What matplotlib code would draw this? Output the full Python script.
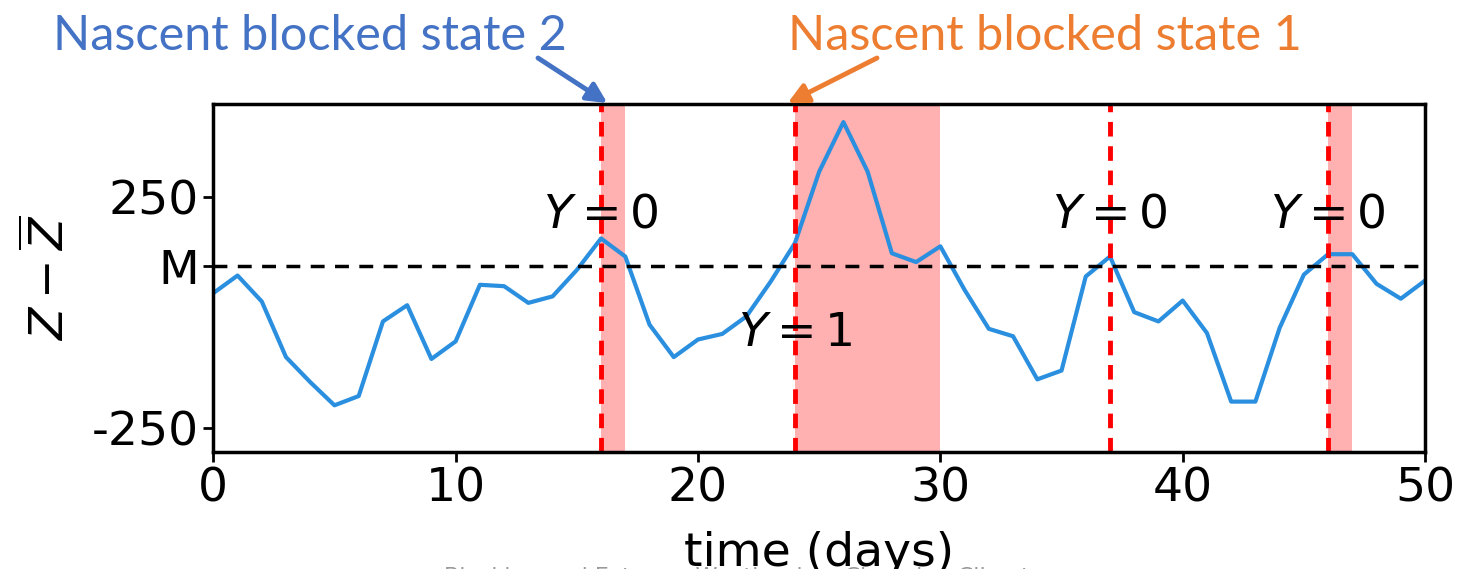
import matplotlib.pyplot as plt

days = list(range(51))
z_anom = [42, 80, 24, -96, -150, -200, -180, -19, 16, -100,
          -62, 60, 57, 21, 35, 92, 160, 121, -26, -96,
          -58, -46, -8, 67, 150, 304, 411, 304, 128, 109,
          143, 49, -35, -51, -144, -125, 78, 121, 1, -19,
          26, -44, -192, -192, -33, 82, 126, 126, 62, 30, 69]

M = 100
onsets = [16, 24, 37, 46]
blocked_spans = [(16, 17), (24, 30), (46, 47)]
y_labels = [(16, "$Y=0$", 210), (24, "$Y=1$", -45), (37, "$Y=0$", 210), (46, "$Y=0$", 210)]

fig = plt.figure(figsize=(14.58, 5.69), dpi=100)
ax = fig.add_axes([0.1463, 0.2062, 0.8311, 0.611])

for a, b in blocked_spans:
    ax.axvspan(a, b, color="#ffb0b0", lw=0)
ax.plot(days, z_anom, color="#2b8fe0", lw=3)
ax.axhline(M, color="black", ls="--", lw=2.5, dashes=(4, 3))
for d in onsets:
    ax.axvline(d, color="red", ls="--", lw=3.5, dashes=(3, 2))
for d, txt, yy in y_labels:
    ax.text(d, yy, txt, fontsize=34, ha="center", va="center")

ax.set_xlim(0, 50)
ax.set_ylim(-300, 450)
ax.set_xticks([0, 10, 20, 30, 40, 50])
ax.set_yticks([-250, M, 250])
ax.set_yticklabels(["-250", "M", "250"])
ax.tick_params(labelsize=34, width=2, length=7)
for s in ax.spines.values():
    s.set_linewidth(2.5)
ax.set_xlabel("time (days)", fontsize=34, labelpad=14)
ax.set_ylabel(r"$Z-\overline{Z}$", fontsize=34, labelpad=12)

# callouts above the panel
callout_font = ["Lato", "DejaVu Sans"]
fig.text(310, 519, "Nascent blocked state 2", transform=None,
         fontsize=35, color="#4472c4", family=callout_font, ha="center", va="baseline")
fig.text(1045, 519, "Nascent blocked state 1", transform=None,
         fontsize=35, color="#ed7d31", family=callout_font, ha="center", va="baseline")
ax.annotate("", xy=(16.26, 452), xycoords="data",
            xytext=(538, 511), textcoords="figure pixels", annotation_clip=False,
            arrowprops=dict(arrowstyle="-|>", color="#4472c4", lw=3.5,
                            mutation_scale=30, shrinkA=0, shrinkB=0))
ax.annotate("", xy=(23.7, 452), xycoords="data",
            xytext=(877, 511), textcoords="figure pixels", annotation_clip=False,
            arrowprops=dict(arrowstyle="-|>", color="#ed7d31", lw=3.5,
                            mutation_scale=30, shrinkA=0, shrinkB=0))

fig.text(0.51, -0.014, "Blocking and Extreme Weather in a Changing Climate",
         fontsize=16, color="#999999", ha="center", va="center")

fig.savefig("out.png", dpi=100)
